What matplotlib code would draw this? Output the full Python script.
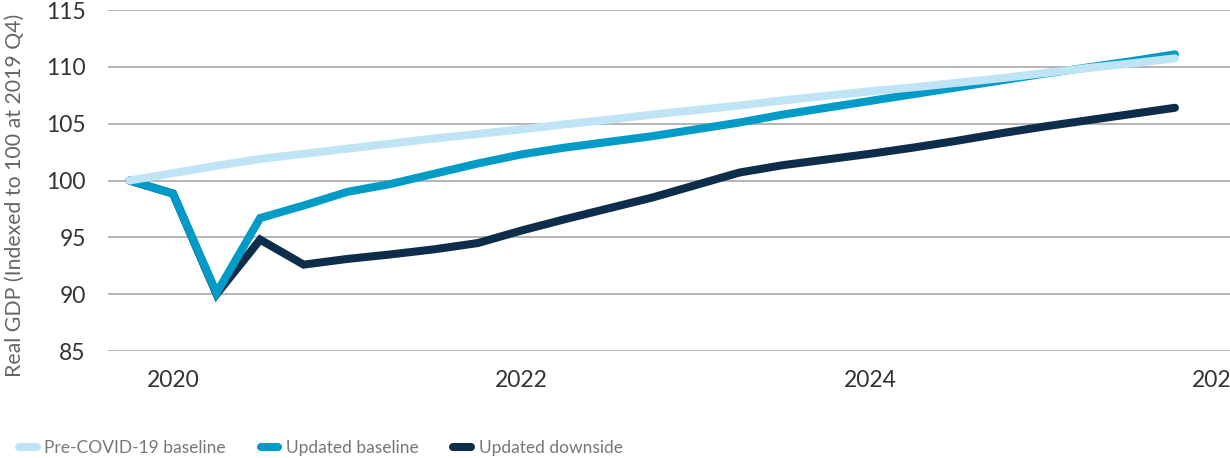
import numpy as np
import matplotlib.pyplot as plt

# quarterly, 2019 Q4 .. 2025 Q4
quarters = np.arange(25)
x_years = 2019.75 + 0.25 * quarters

pre_covid = [100.0, 100.65, 101.3, 101.9, 102.35, 102.8, 103.25, 103.7, 104.1, 104.5,
             104.95, 105.35, 105.8, 106.2, 106.6, 107.05, 107.45, 107.85, 108.2, 108.6,
             109.0, 109.45, 109.9, 110.3, 110.75]
updated_base = [100.0, 98.85, 90.1, 96.7, 97.8, 99.0, 99.7, 100.6, 101.5, 102.3,
                102.9, 103.4, 103.9, 104.5, 105.1, 105.8, 106.4, 107.0, 107.6, 108.2,
                108.8, 109.4, 109.95, 110.5, 111.1]
updated_down = [100.0, 98.85, 90.0, 94.8, 92.6, 93.1, 93.5, 93.95, 94.5, 95.6,
                96.6, 97.55, 98.5, 99.6, 100.7, 101.35, 101.85, 102.35, 102.9, 103.5,
                104.15, 104.75, 105.3, 105.85, 106.4]

labels = ['Pre-COVID-19 baseline', 'Updated baseline', 'Updated downside']
colors = ['#bee4f5', '#009cc7', '#0e2d4b']
year_ticks = [2020, 2022, 2024, 2026]

plt.rcParams['font.family'] = ['Lato', 'DejaVu Sans']

fig = plt.figure(figsize=(12.3, 4.58), dpi=100)
ax = fig.add_axes([0.0878, 0.2336, 0.9122, 0.7445])

series = [pre_covid, updated_base, updated_down]
lines = {}
for i in [2, 1, 0]:
    ln, = ax.plot(x_years, series[i], color=colors[i], lw=5.8,
                  solid_capstyle='round', solid_joinstyle='miter', zorder=3 + (2 - i))
    lines[i] = ln

ax.set_ylim(85, 115)
ax.set_yticks(range(85, 116, 5))
ax.set_xlim(2019.627, 2026.066)
ax.set_xticks(year_ticks)
ax.set_xticklabels([str(y) for y in year_ticks])
ax.grid(axis='y', color='#a8a8a8', lw=1.2)
ax.set_axisbelow(True)
for s in ax.spines.values():
    s.set_visible(False)
ax.tick_params(axis='both', length=0, labelsize=16.5, labelcolor='#333333')
ax.tick_params(axis='y', pad=16)
ax.tick_params(axis='x', pad=14)

fig.text(0.012, 0.574, 'Real GDP (Indexed to 100 at 2019 Q4)', rotation=90,
         ha='center', va='center', fontsize=15.3, color='#666666')

handles = [lines[i] for i in range(3)]
leg = fig.legend(handles, labels, loc='lower left', bbox_to_anchor=(0.003, -0.03),
                 ncol=3, frameon=False, handlelength=1.0, handletextpad=0.45,
                 columnspacing=2.0, labelcolor='#777777', fontsize=12.5)

fig.savefig('out.png', dpi=100)
